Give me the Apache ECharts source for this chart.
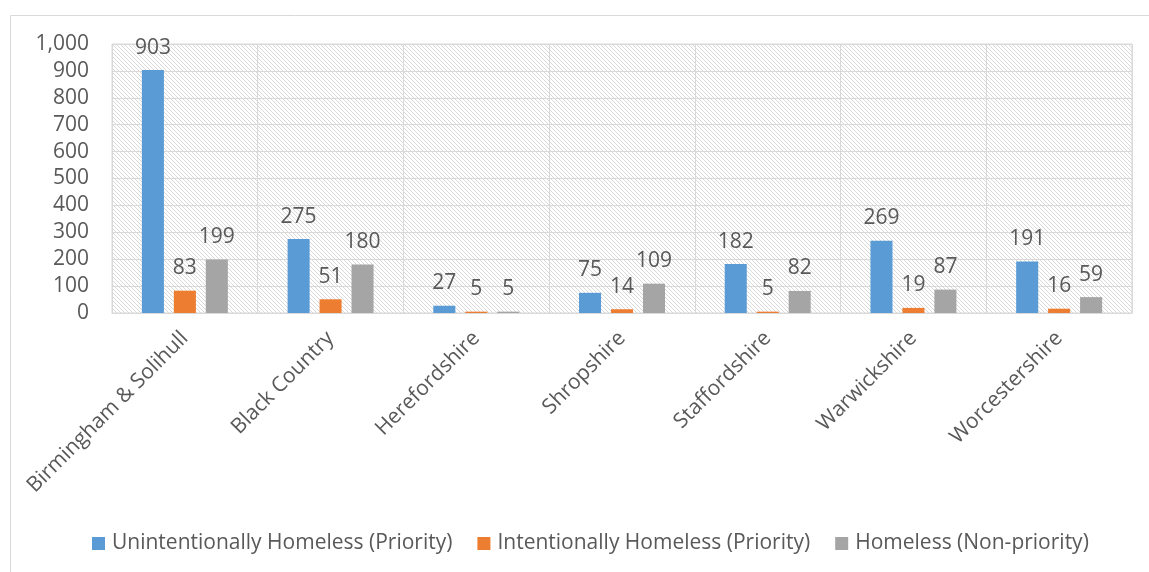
<!DOCTYPE html>
<html>
<head>
<meta charset="utf-8">
<script src="https://cdn.jsdelivr.net/npm/echarts@6/dist/echarts.min.js"></script>
<style>
  html, body { margin: 0; padding: 0; background: #ffffff; }
  #chart { width: 1149px; height: 572px; }
</style>
</head>
<body>
<div id="chart"></div>
<script>
// Homelessness decisions by area
const categories = ['Birmingham & Solihull', 'Black Country', 'Herefordshire', 'Shropshire', 'Staffordshire', 'Warwickshire', 'Worcestershire'];
const unintentionalPriority = [903, 275, 27, 75, 182, 269, 191];
const intentionalPriority = [83, 51, 5, 14, 5, 19, 16];
const nonPriority = [199, 180, 5, 109, 82, 87, 59];
const seriesNames = ['Unintentionally Homeless (Priority)', 'Intentionally Homeless (Priority)', 'Homeless (Non-priority)'];

const FONT = '"Open Sans", sans-serif';
const FS = 21;
const TEXT = '#595959';
const LINE = '#d9d9d9';

// Light downward-diagonal hatch for the plot background
function hatchCanvas() {
  const c = document.createElement('canvas');
  c.width = 8; c.height = 8;
  const ctx = c.getContext('2d');
  ctx.fillStyle = '#ffffff';
  ctx.fillRect(0, 0, 8, 8);
  ctx.fillStyle = '#d9d9d9';
  for (let y = 0; y < 8; y++) {
    for (let x = 0; x < 8; x++) {
      if (((x - y) % 4 + 4) % 4 === 0) ctx.fillRect(x, y, 1, 1);
    }
  }
  return c;
}

const chart = echarts.init(document.getElementById('chart'), null, { renderer: 'canvas' });

const labelStyle = {
  show: true,
  position: 'top',
  distance: 12,
  color: TEXT,
  fontFamily: FONT,
  fontSize: FS
};

function bar(name, data, color) {
  return {
    name: name,
    type: 'bar',
    data: data,
    itemStyle: { color: color },
    barGap: '45%',
    barCategoryGap: '41%',
    label: labelStyle
  };
}

chart.setOption({
  animation: false,
  textStyle: { fontFamily: FONT },
  graphic: [{
    type: 'rect',
    shape: { x: 10.5, y: 15.5, width: 1300, height: 700 },
    style: { fill: null, stroke: LINE, lineWidth: 1 },
    silent: true,
    z: -10
  }],
  grid: {
    left: 112, top: 44, right: 17, bottom: 259,
    show: true,
    backgroundColor: { image: hatchCanvas(), repeat: 'repeat' },
    borderColor: LINE,
    borderWidth: 1
  },
  legend: {
    top: 533,
    left: 92,
    padding: 0,
    itemWidth: 13,
    itemHeight: 13,
    itemGap: 25,
    icon: 'rect',
    textStyle: { color: TEXT, fontFamily: FONT, fontSize: FS, padding: [0, 0, 0, 2] },
    data: seriesNames
  },
  xAxis: {
    type: 'category',
    data: categories,
    axisLine: { show: true, lineStyle: { color: LINE, width: 1 } },
    axisTick: { show: false },
    splitLine: { show: true, lineStyle: { color: LINE, width: 1 } },
    axisLabel: {
      rotate: 45,
      interval: 0,
      margin: 22,
      color: TEXT,
      fontFamily: FONT,
      fontSize: FS
    }
  },
  yAxis: {
    type: 'value',
    min: 0,
    max: 1000,
    interval: 100,
    axisLine: { show: false },
    axisTick: { show: false },
    splitLine: { lineStyle: { color: LINE, width: 1 } },
    axisLabel: {
      margin: 23,
      color: TEXT,
      fontFamily: FONT,
      fontSize: FS,
      formatter: v => v.toLocaleString('en-US')
    }
  },
  series: [
    bar(seriesNames[0], unintentionalPriority, '#5b9bd5'),
    bar(seriesNames[1], intentionalPriority, '#ed7d31'),
    bar(seriesNames[2], nonPriority, '#a5a5a5')
  ]
});
</script>
</body>
</html>
